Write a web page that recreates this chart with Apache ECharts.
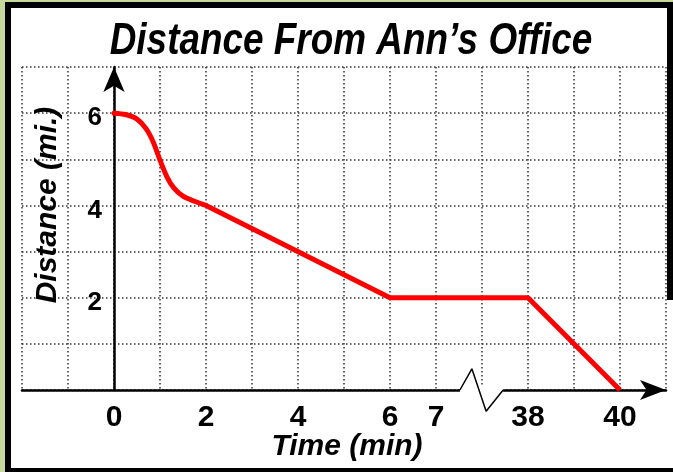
<!DOCTYPE html>
<html><head><meta charset="utf-8">
<script src="https://cdn.jsdelivr.net/npm/echarts@6/dist/echarts.min.js"></script>
<style>
html,body{margin:0;padding:0;width:673px;height:472px;overflow:hidden;background:#c6d89c;}
#frame{position:absolute;left:5px;top:2px;width:668px;height:470px;background:#000;}
#inner{position:absolute;left:11px;top:8px;width:656px;height:460px;background:#fff;}
#patch{position:absolute;left:667px;top:300px;width:6px;height:168px;background:#fff;}
#chart{position:absolute;left:0;top:0;width:673px;height:472px;}
</style></head><body>
<div id="frame"></div><div id="inner"></div><div id="patch"></div><div id="chart"></div>
<script>
// Data (times in minutes, distance in miles)
const curveTimes = [0, 0.25, 0.5, 0.7, 0.85, 1.0, 1.15, 1.3, 1.5, 1.75, 2];
const curveDist  = [6, 5.97, 5.87, 5.66, 5.38, 4.98, 4.62, 4.38, 4.2, 4.09, 4];
const lineTimes  = [2, 6, 38, 40];
const lineDist   = [4, 2, 2, 0];
const xTickLabels = [0, 2, 4, 6, 7, 38, 40];
const yTickLabels = [2, 4, 6];
const breakFrom = 7.5, breakTo = 37.5;   // omitted time span on the x axis

// broken-axis mapping: time -> axis position
const gapWidth = 1;
function pos(t){ return t <= breakFrom ? t : t - (breakTo - breakFrom) + gapWidth; }
const labelByPos = {};
xTickLabels.forEach(t => { labelByPos[pos(t)] = String(t); });

const curveData = curveTimes.map((t,i)=>[pos(t), curveDist[i]]);
const lineData  = lineTimes.map((t,i)=>[pos(t), lineDist[i]]);
const bL = pos(breakFrom) + 0.02, bR = pos(breakTo) - 0.04;
const zig = [[bL,0],[bL+0.26,0.46],[bL+0.57,-0.46],[bR,0]];

const xMin = -2, xMax = 12;
const gridLeft = 22, gridRight = 7, W = 673;
const unitPx = (W - gridLeft - gridRight) / (xMax - xMin);

const chart = echarts.init(document.getElementById('chart'), null, {renderer:'canvas'});
const gridStyle = {color:'#333', type:[1.5,2.5], width:1.5};
chart.setOption({
  animation:false,
  backgroundColor:'transparent',
  grid:{left:gridLeft, right:gridRight, top:67, bottom:82, containLabel:false, outerBoundsMode:'none'},
  xAxis:{
    type:'value', min:xMin, max:xMax, interval:1,
    axisLine:{show:true, onZero:true, symbol:['none','arrow'], symbolSize:[15,26],
      lineStyle:{color:'#000', width:2.5}},
    axisTick:{show:false},
    splitLine:{show:true, lineStyle:gridStyle},
    axisLabel:{margin:13, color:'#000', fontSize:30, fontWeight:'bold',
      fontFamily:'"Liberation Sans", Arial, sans-serif',
      formatter:v => (labelByPos[v] !== undefined ? labelByPos[v] : '')}
  },
  yAxis:{
    type:'value', min:0, max:7, interval:1,
    offset: -(0 - xMin) * unitPx,
    axisLine:{show:true, onZero:false, symbol:['none','arrow'], symbolSize:[16,25],
      lineStyle:{color:'#000', width:2.5}},
    axisTick:{show:false},
    splitLine:{show:true, lineStyle:gridStyle},
    axisLabel:{margin:12, color:'#000', fontSize:26, fontWeight:'bold',
      fontFamily:'"Liberation Sans", Arial, sans-serif', verticalAlign:'top', lineHeight:10,
      formatter:v => (yTickLabels.indexOf(v) >= 0 ? String(v) : '')}
  },
  graphic:[
    {type:'text', x:351, y:42, scaleX:0.82, z:10, style:{text:'Distance From Ann\u2019s Office',
      font:'italic bold 45px "Liberation Sans", Arial, sans-serif',
      fill:'#000', align:'center', verticalAlign:'middle'}},
    {type:'text', x:347, y:447, z:10, style:{text:'Time (min)',
      font:'italic bold 30px "Liberation Sans", Arial, sans-serif',
      fill:'#000', align:'center', verticalAlign:'middle'}},
    {type:'text', x:48, y:205, rotation:Math.PI/2, z:10, style:{text:'Distance (mi.)',
      font:'italic bold 30px "Liberation Sans", Arial, sans-serif',
      fill:'#000', align:'center', verticalAlign:'middle'}}
  ],
  series:[
    {type:'line', data:[[bL,0],[bR,0]], symbol:'none', clip:false, z:3, silent:true,
      lineStyle:{color:'#fff', width:6}},
    {type:'line', data:zig, symbol:'none', clip:false, z:4, silent:true,
      lineStyle:{color:'#000', width:1.5}},
    {type:'line', data:curveData, smooth:0.3, symbol:'none', clip:false, z:5,
      lineStyle:{color:'#ff0000', width:5, cap:'round'}},
    {type:'line', data:lineData, symbol:'none', clip:false, z:5,
      lineStyle:{color:'#ff0000', width:5, join:'round'}}
  ]
});
</script>
</body></html>
